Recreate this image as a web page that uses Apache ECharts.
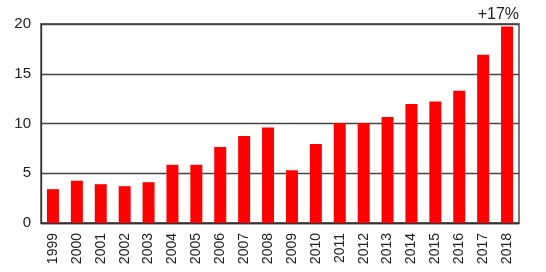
<!DOCTYPE html>
<html>
<head>
<meta charset="utf-8">
<script src="https://cdn.jsdelivr.net/npm/echarts@6/dist/echarts.min.js"></script>
<style>html,body{margin:0;padding:0;background:#fff;}#c{width:546px;height:272px;}</style>
</head>
<body>
<div id="c"></div>
<script>
var years = ['1999','2000','2001','2002','2003','2004','2005','2006','2007','2008','2009','2010','2011','2012','2013','2014','2015','2016','2017','2018'];
var values = [3.4, 4.25, 3.9, 3.7, 4.1, 5.85, 5.85, 7.65, 8.75, 9.6, 5.3, 7.95, 10.05, 10.05, 10.65, 11.95, 12.2, 13.3, 16.9, 19.75];
var yTicks = [0, 5, 10, 15, 20];
var note = '+17%';

var chart = echarts.init(document.getElementById('c'), null, {renderer: 'canvas'});
chart.setOption({
  animation: false,
  backgroundColor: '#fff',
  title: {
    text: note, right: 22, top: 2,
    textStyle: {fontFamily: 'Liberation Sans', fontSize: 16, fontWeight: 'normal', color: '#222'}
  },
  grid: {left: 41, right: 27, top: 24, bottom: 49, show: true, borderColor: '#333', borderWidth: 1.3},
  xAxis: {
    type: 'category', data: years,
    axisLine: {lineStyle: {color: '#333', width: 1.3}},
    axisTick: {show: false},
    axisLabel: {rotate: 90, margin: 10, fontFamily: 'Liberation Sans', fontSize: 14, color: '#222'}
  },
  yAxis: {
    type: 'value', min: yTicks[0], max: yTicks[yTicks.length - 1], interval: 5,
    axisLine: {show: true, lineStyle: {color: '#333', width: 1.3}},
    axisTick: {show: false},
    splitLine: {lineStyle: {color: '#444', width: 1.3}},
    axisLabel: {margin: 10, fontFamily: 'Liberation Sans', fontSize: 15, color: '#222'}
  },
  series: [{
    type: 'bar', data: values, barWidth: 12,
    itemStyle: {color: '#ff0000'}
  }]
});
</script>
</body>
</html>
